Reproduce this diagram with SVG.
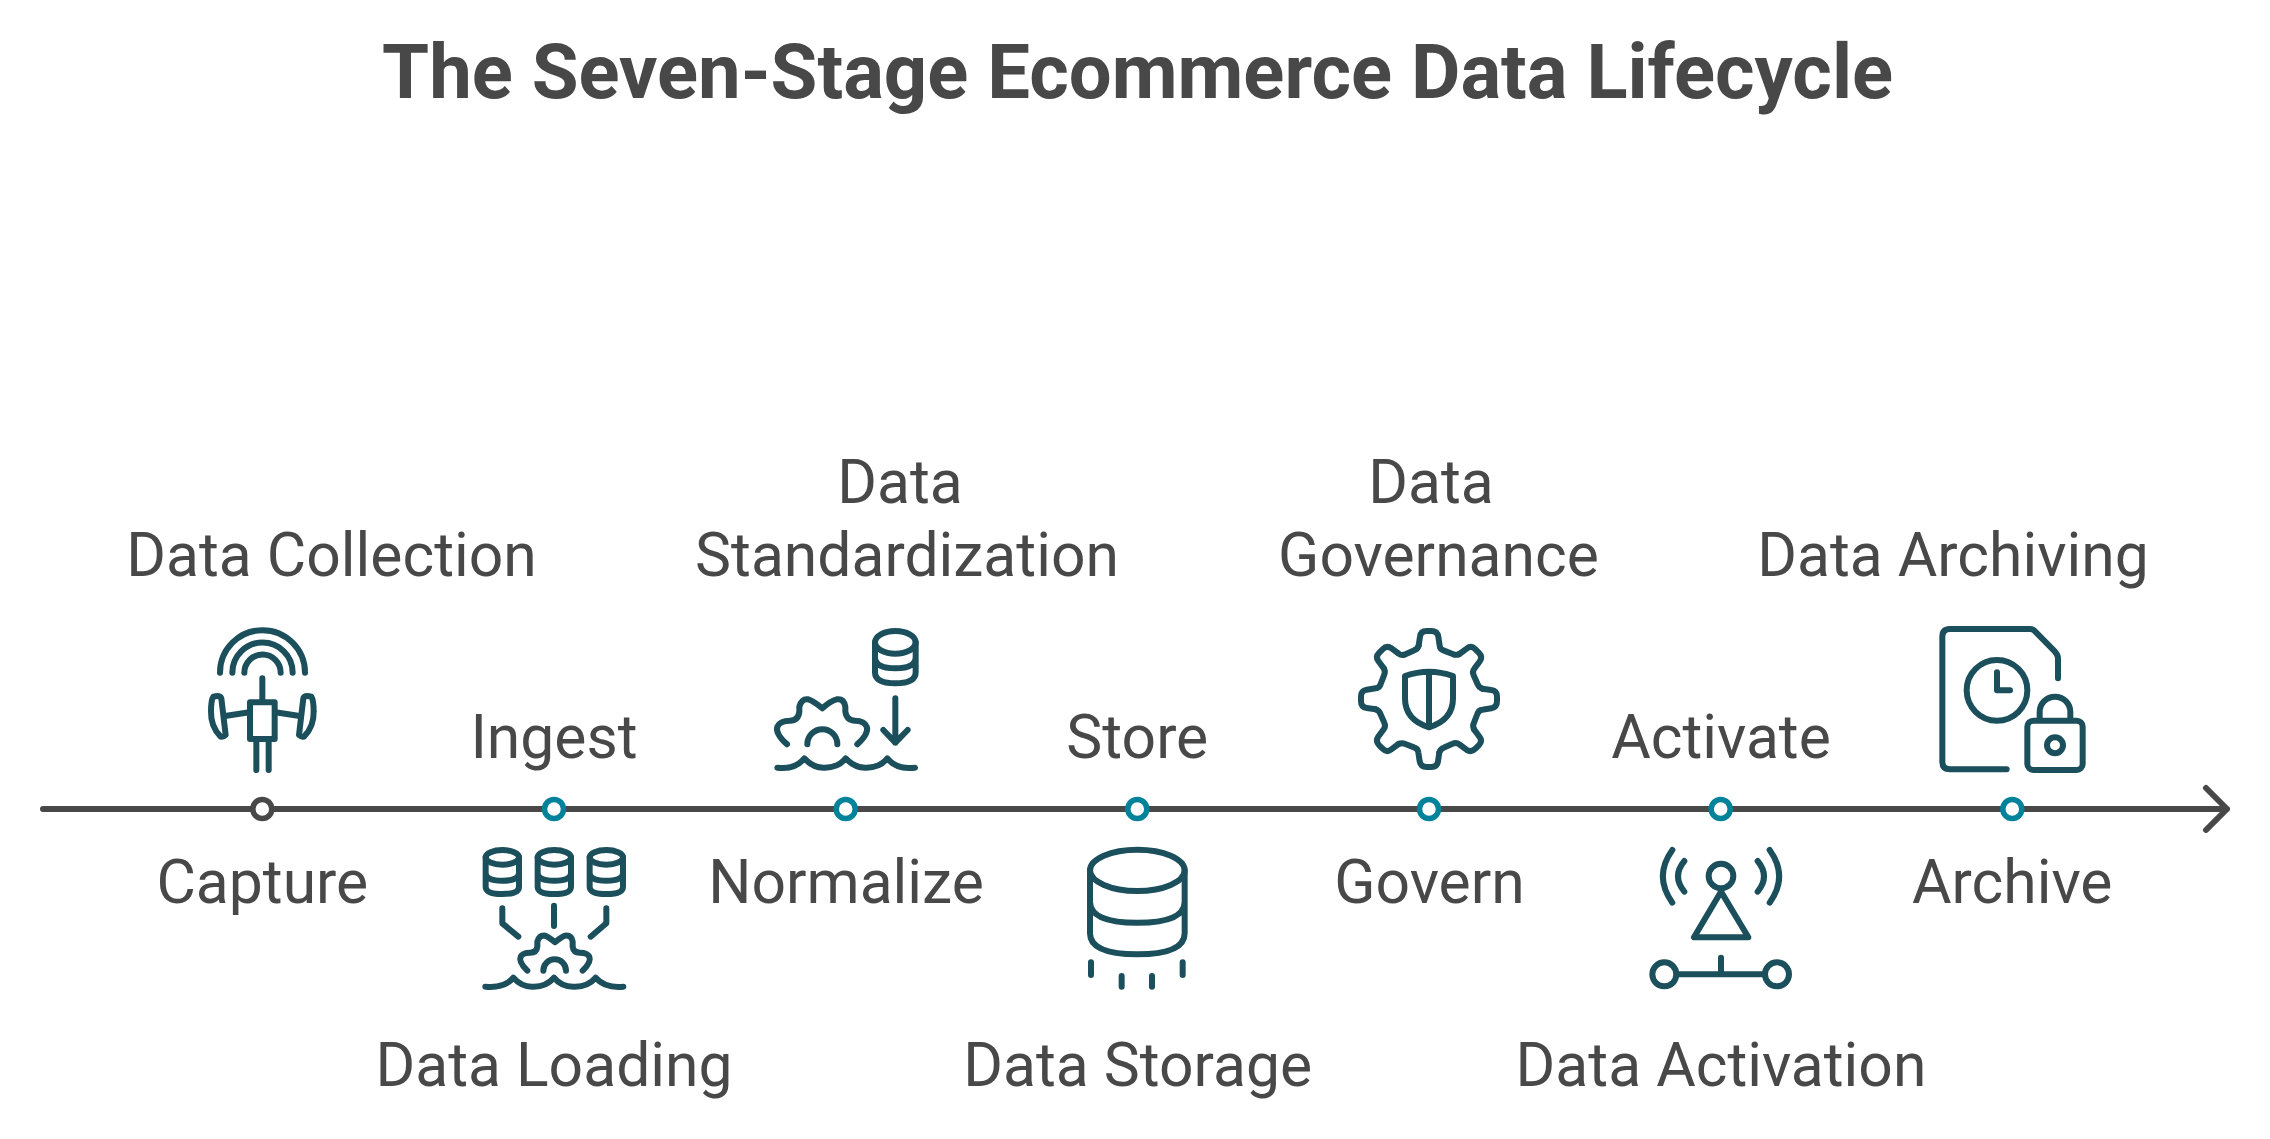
<svg xmlns="http://www.w3.org/2000/svg" xmlns:xlink="http://www.w3.org/1999/xlink" width="2270" height="1139" viewBox="0 0 2270 1139">
<style>
text{font-family:Roboto,"Liberation Sans",sans-serif;fill:#484848;text-anchor:middle}
.t{font-size:76px;font-weight:700}
.l{font-size:60.6px;font-weight:400}
.i{fill:none;stroke:#1b4f5c;stroke-width:18;stroke-linecap:round;stroke-linejoin:round}
.ax{fill:none;stroke:#484848;stroke-width:6;stroke-linecap:round;stroke-linejoin:round}
.d{fill:#fff;stroke:#00829b;stroke-width:5.5}
.d0{fill:#fff;stroke:#484848;stroke-width:5.5}
</style>
<defs>
<path id="tooth" d="M266 137L270 110Q272 93 290 93L304 93Q322 93 325 110L329 137Q330 148 342 152L368 162Q378 167 388 162"/>
<g id="cyl3"><ellipse cx="0" cy="772" rx="50" ry="22"/><path d="M-50 772V860Q-50 882 0 882Q50 882 50 860V772M-50 818Q-50 842 0 842Q50 842 50 818"/></g>
</defs>
<rect width="2270" height="1139" fill="#fff"/>
<text class="t" x="1137.6" y="97.7">The Seven-Stage Ecommerce Data Lifecycle</text>
<g id="connectors"><path class="ax" d="M43 809H2227M2206 788L2227 809L2206 830"/></g>
<g id="n1">
<circle class="d0" cx="262.3" cy="809" r="9.5"/>
<text class="l" x="331.5" y="575.5">Data Collection</text>
<text class="l" x="262.3" y="903.3">Capture</text>
<g class="i" transform="translate(180 600) scale(.33333)">
<path d="M120 218A127.5 127.5 0 0 1 375 218M157 218A90.5 90.5 0 0 1 338 218M193 218A54.5 54.5 0 0 1 302 218M247 235V305M229 425V510M266 425V510M135 348L208 337M359 348L286 337"/>
<rect x="210" y="307" width="74" height="110"/>
<path d="M100 290Q120 285 124 295L137 405Q130 412 122 410Q92 380 93 335Q93 300 100 290Z"/>
<path d="M394 290Q374 285 370 295L357 405Q364 412 372 410Q402 380 401 335Q401 300 394 290Z"/>
</g>
</g>
<g id="n2">
<circle class="d" cx="554" cy="809" r="9.5"/>
<text class="l" x="554" y="757.7">Ingest</text>
<text class="l" x="554" y="1086.2">Data Loading</text>
<g class="i" transform="translate(180 600) scale(.33333)">
<use xlink:href="#cyl3" x="967"/><use xlink:href="#cyl3" x="1123"/><use xlink:href="#cyl3" x="1279"/>
<path d="M967 925V970L1015 1010M1122 917V978M1279 925V970L1232 1010"/>
<path d="M1042 1112Q1015 1085 1022 1070Q1028 1058 1050 1058Q1070 1058 1072 1040L1072 1025Q1078 1005 1095 1007Q1105 1010 1125 1027Q1145 1010 1155 1007Q1175 1005 1178 1025L1178 1040Q1180 1058 1200 1058Q1222 1058 1228 1070Q1235 1085 1208 1112M1090 1112A34 34 0 0 1 1158 1112"/>
<path d="M916 1160Q975 1165 1000 1133Q1025 1162 1061 1160Q1100 1160 1122 1133Q1145 1162 1185 1160Q1225 1160 1247 1133Q1275 1165 1330 1160"/>
</g>
</g>
<g id="n3">
<circle class="d" cx="845.7" cy="809" r="9.5"/>
<text class="l" x="900" y="502.5">Data</text>
<text class="l" x="907" y="575.5">Standardization</text>
<text class="l" x="846" y="903.3">Normalize</text>
<g class="i" transform="translate(740 600) scale(.33333)">
<ellipse cx="466" cy="127" rx="61" ry="34"/>
<path d="M405 127V217Q405 250 466 250Q527 250 527 217V127M405 172Q405 205 466 205Q527 205 527 172"/>
<path d="M466 295V428M430 390L466 428L503 390"/>
<path d="M141 433Q105 400 112 380Q120 362 150 362Q175 362 178 335L178 320Q185 295 205 298Q220 302 247 325Q272 302 290 298Q312 295 316 320L316 335Q320 362 345 362Q373 362 380 380Q388 400 352 433M202 433A45 45 0 0 1 292 433"/>
<path d="M112 503Q165 510 193 475Q220 505 255 503Q295 503 317 475Q345 505 380 503Q420 503 442 475Q470 510 525 503"/>
</g>
</g>
<g id="n4">
<circle class="d" cx="1137.3" cy="809" r="9.5"/>
<text class="l" x="1137.3" y="757.7">Store</text>
<text class="l" x="1137.7" y="1086.2">Data Storage</text>
<g class="i" transform="translate(740 600) scale(.33333)">
<ellipse cx="1192" cy="811" rx="142" ry="62"/>
<path d="M1050 811V1000Q1050 1063 1192 1063Q1334 1063 1334 1000V811M1050 905Q1050 968 1192 968Q1334 968 1334 905M1053 1087V1125M1328 1087V1125M1145 1128V1160M1236 1128V1160"/>
</g>
</g>
<g id="n5">
<circle class="d" cx="1429" cy="809" r="9.5"/>
<text class="l" x="1431" y="502.5">Data</text>
<text class="l" x="1438.5" y="575.5">Governance</text>
<text class="l" x="1429.5" y="903.3">Govern</text>
<g class="i" transform="translate(1330 600) scale(.33333)">
<use xlink:href="#tooth"/>
<use xlink:href="#tooth" transform="rotate(45 297 297)"/>
<use xlink:href="#tooth" transform="rotate(90 297 297)"/>
<use xlink:href="#tooth" transform="rotate(135 297 297)"/>
<use xlink:href="#tooth" transform="rotate(180 297 297)"/>
<use xlink:href="#tooth" transform="rotate(225 297 297)"/>
<use xlink:href="#tooth" transform="rotate(270 297 297)"/>
<use xlink:href="#tooth" transform="rotate(315 297 297)"/>
<path d="M225 228Q297 202 369 228L369 295Q369 360 297 382Q225 360 225 295ZM297 215V380"/>
</g>
</g>
<g id="n6">
<circle class="d" cx="1720.7" cy="809" r="9.5"/>
<text class="l" x="1721" y="757.7">Activate</text>
<text class="l" x="1721" y="1086.2">Data Activation</text>
<g class="i" transform="translate(1330 600) scale(.33333)">
<circle cx="1173" cy="828" r="37"/>
<path d="M1173 875L1092 1012H1255ZM1027 750Q970 829 1027 908M1063 783Q1025 829 1063 875M1319 750Q1376 829 1319 908M1283 783Q1321 829 1283 875"/>
<circle cx="1003" cy="1123" r="36"/><circle cx="1341" cy="1123" r="36"/>
<path d="M1040 1123H1304M1173 1073V1123"/>
</g>
</g>
<g id="n7">
<circle class="d" cx="2012.3" cy="809" r="9.5"/>
<text class="l" x="1953" y="575.5">Data Archiving</text>
<text class="l" x="2012.3" y="903.3">Archive</text>
<g class="i" transform="translate(1900 600) scale(.33333)">
<path d="M320 508H150Q127 508 127 485V110Q127 87 150 87H390Q398 87 403 92L465 155Q474 165 474 175V235"/>
<circle cx="291" cy="271" r="91"/>
<path d="M291 217V271H330M419 355V336A46 46 0 0 1 511 336V355"/>
<rect x="382" y="362" width="166" height="148" rx="18"/>
<circle cx="465" cy="436" r="24"/>
</g>
</g>
</svg>
